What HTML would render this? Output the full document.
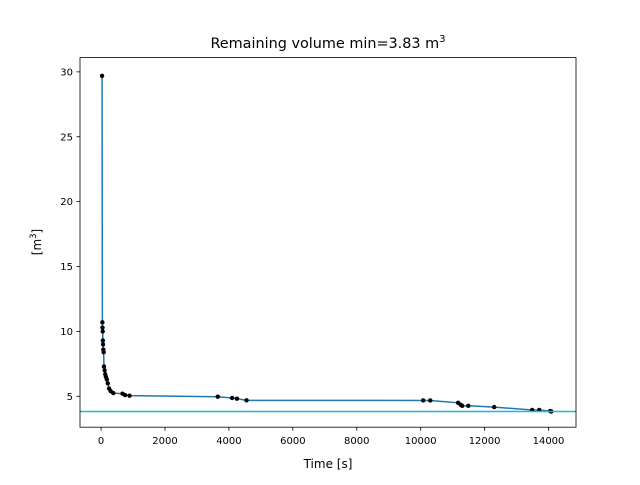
<!DOCTYPE html>
<html><head><meta charset="utf-8"><style>
body{margin:0;background:#fff;font-family:"Liberation Sans","DejaVu Sans",sans-serif}
</style></head><body>
<svg id="chart" width="640" height="480" xmlns="http://www.w3.org/2000/svg" font-family="DejaVu Sans, Liberation Sans, sans-serif">
<rect width="640" height="480" fill="#fff"/>
<text x="328" y="48" text-anchor="middle" font-size="14.4">Remaining volume min=3.83 m<tspan dy="-6" font-size="10">3</tspan></text>
<g id="plot"></g>
<text x="328" y="468" text-anchor="middle" font-size="12">Time [s]</text>
<text transform="translate(41,242) rotate(-90)" text-anchor="middle" font-size="12">[m<tspan dy="-5" font-size="8.5">3</tspan><tspan dy="5">]</tspan></text>
</svg>
<script>
const times=[30,40,45,50,55,60,70,80,90,110,130,150,180,210,250,300,380,670,750,890,3650,4100,4250,4550,10080,10300,11170,11250,11300,11490,12300,13490,13710,14050,14090];
const volumes=[29.7,10.7,10.3,10.0,9.3,9.0,8.6,8.4,7.3,7.0,6.7,6.5,6.3,6.0,5.6,5.4,5.25,5.2,5.1,5.05,4.97,4.87,4.82,4.69,4.68,4.68,4.5,4.35,4.27,4.27,4.17,3.95,3.95,3.86,3.83];
const xTicks=[0,2000,4000,6000,8000,10000,12000,14000];
const yTicks=[5,10,15,20,25,30];
const minVol=3.83;
const L=80,R=576,T=57.6,B=427.2;
const xMin=-660,xMax=14860,yMin=2.62,yMax=31.1;
const X=v=>L+(v-xMin)/(xMax-xMin)*(R-L);
const Y=v=>B-(v-yMin)/(yMax-yMin)*(B-T);
const NS="http://www.w3.org/2000/svg";
const g=document.getElementById('plot');
function mk(tag,attrs,parent){const e=document.createElementNS(NS,tag);for(const k in attrs)e.setAttribute(k,attrs[k]);(parent||g).appendChild(e);return e;}
xTicks.forEach(t=>{
  const l=mk('line',{x1:X(t),x2:X(t),y1:B,y2:B+3.5,stroke:'#000','stroke-width':0.8});
  
  
  const tx=mk('text',{x:X(t),y:B+17,'text-anchor':'middle','font-size':10});
  tx.textContent=t;
  
  
});
yTicks.forEach(t=>{
  const l=mk('line',{x1:L-3.5,x2:L,y1:Y(t),y2:Y(t),stroke:'#000','stroke-width':0.8});
  
  
  const tx=mk('text',{x:L-7,y:Y(t)+3.5,'text-anchor':'end','font-size':10});
  tx.textContent=t;
  
  
});
const pts=times.map((t,i)=>X(t)+','+Y(volumes[i])).join(' ');
const ln=mk('polyline',{points:pts,fill:'none',stroke:'#1f77b4','stroke-width':1.5});


times.forEach((t,i)=>{
  const c=mk('circle',{cx:X(t),cy:Y(volumes[i]),r:2.2,fill:'#000'});
  
  
});
const h=mk('line',{x1:L,x2:R,y1:Y(minVol),y2:Y(minVol),stroke:'#17becf','stroke-width':1.5});


const fr=mk('rect',{x:L,y:T,width:R-L,height:B-T,fill:'none',stroke:'#000','stroke-width':0.8});


</script>
</body></html>
